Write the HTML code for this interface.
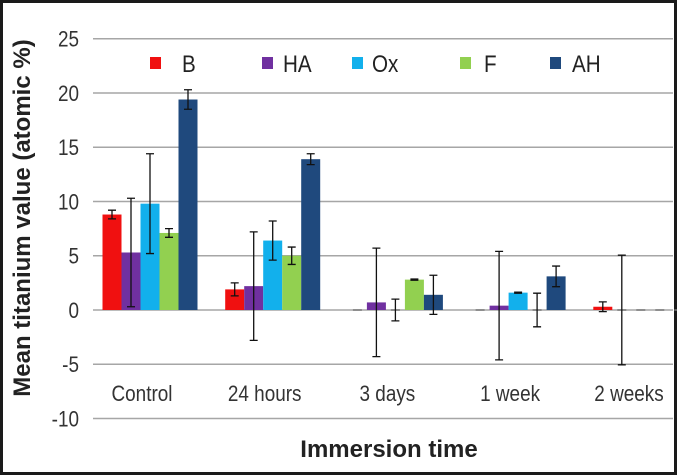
<!DOCTYPE html>
<html><head><meta charset="utf-8"><style>
html,body{margin:0;padding:0;background:#fff}
svg{display:block;font-family:"Liberation Sans",Arial,sans-serif}
</style></head><body>
<svg id="chart" width="677" height="475" viewBox="0 0 677 475">
<rect x="1.5" y="1.5" width="674" height="472" fill="#fff" stroke="#1a1a1a" stroke-width="3"/>
<g id="grid"></g>
<g id="bars"></g>
<g id="errs"></g>
<g id="ticks"></g>
<g id="cats"></g>
<g id="legend"></g>
<text x="30" y="218" transform="rotate(-90 30 218)" text-anchor="middle" font-weight="bold" font-size="24" fill="#222">Mean titanium value (atomic %)</text>
<text x="389" y="457" text-anchor="middle" font-weight="bold" font-size="24" fill="#222">Immersion time</text>
</svg>
<script>
const categories = ["Control","24 hours","3 days","1 week","2 weeks"];
const seriesNames = ["B","HA","Ox","F","AH"];
const valuesB  = [8.8, 1.9, 0, 0, 0.3];
const valuesHA = [5.3, 2.2, 0.7, 0.4, 0];
const valuesOx = [9.8, 6.4, 0, 1.6, 0];
const valuesF  = [7.1, 5.0, 2.8, 0, 0];
const valuesAH = [19.4, 13.9, 1.4, 3.1, 0];
const errB  = [0.4, 0.6, 0, 0, 0.45];
const errHA = [5.0, 5.0, 5.0, 5.0, 5.05];
const errOx = [4.6, 1.8, 1.0, 0.05, 0];
const errF  = [0.4, 0.8, 0.05, 1.55, 0];
const errAH = [0.9, 0.5, 1.8, 0.95, 0];
const yTicks = [25,20,15,10,5,0,-5,-10];

const colors = ["#f01010","#7030a0","#12b0ec","#92d050","#1f497d"];
const allVals = [valuesB,valuesHA,valuesOx,valuesF,valuesAH];
const allErr = [errB,errHA,errOx,errF,errAH];
const NS = "http://www.w3.org/2000/svg";
function y(v){ return 310 - v*10.85; }
function xc(i){ return 150 + i*122.7; }
const bw = 19;
const SX = 0.86;
function mk(tag, attrs, parent, txt){
  const e = document.createElementNS(NS, tag);
  for (const k in attrs) e.setAttribute(k, attrs[k]);
  if (txt !== undefined) e.textContent = txt;
  document.getElementById(parent).appendChild(e);
  return e;
}
yTicks.forEach(t=>{
  const l = mk("line",{x1:93,x2:673,y1:y(t),y2:y(t),stroke:"#a6a6a6","stroke-width":1.5},"grid");
  
  
  const tx = mk("text",{x:79/SX,y:y(t)+8,"text-anchor":"end","font-size":22,fill:"#333",transform:"scale("+SX+",1)"},"ticks",String(t));
  
  
});
categories.forEach((c,i)=>{
  const lc = Math.min(xc(i) - 8, 629);
  const t = mk("text",{x:lc/SX,y:401,"text-anchor":"middle","font-size":22,fill:"#333",transform:"scale("+SX+",1)"},"cats",c);
  
  
  allVals.forEach((vals,s)=>{
    const x0 = xc(i) - 2.5*bw + s*bw;
    const v = vals[i];
    if (v === 0) {
      const d = mk("line",{x1:x0+5,x2:x0+14,y1:y(0),y2:y(0),stroke:"#777","stroke-width":1.5},"bars");
      
      
    } else {
      const r = mk("rect",{x:x0,y:Math.min(y(v),y(0)),width:bw,height:Math.abs(y(v)-y(0)),fill:colors[s]},"bars");
      
      
    }
    const e = allErr[s][i];
    if (e > 0) {
      const cx = x0 + bw/2;
      const g = mk("path",{d:"M"+cx+" "+y(v+e)+"V"+y(v-e)+"M"+(cx-4)+" "+y(v+e)+"H"+(cx+4)+"M"+(cx-4)+" "+y(v-e)+"H"+(cx+4),stroke:"#111","stroke-width":1.3,fill:"none"},"errs");
      
      
    }
  });
});
const legX = [150,262,352,460,550];
const legTX = [182,283,372,484,572];
seriesNames.forEach((n,s)=>{
  const r = mk("rect",{x:legX[s],y:57,width:11,height:12,fill:colors[s]},"legend");
  
  
  const t = mk("text",{x:legTX[s]/SX,y:72,"font-size":24,fill:"#222",transform:"scale("+SX+",1)"},"legend",n);
  
  
});
</script>
</body></html>
